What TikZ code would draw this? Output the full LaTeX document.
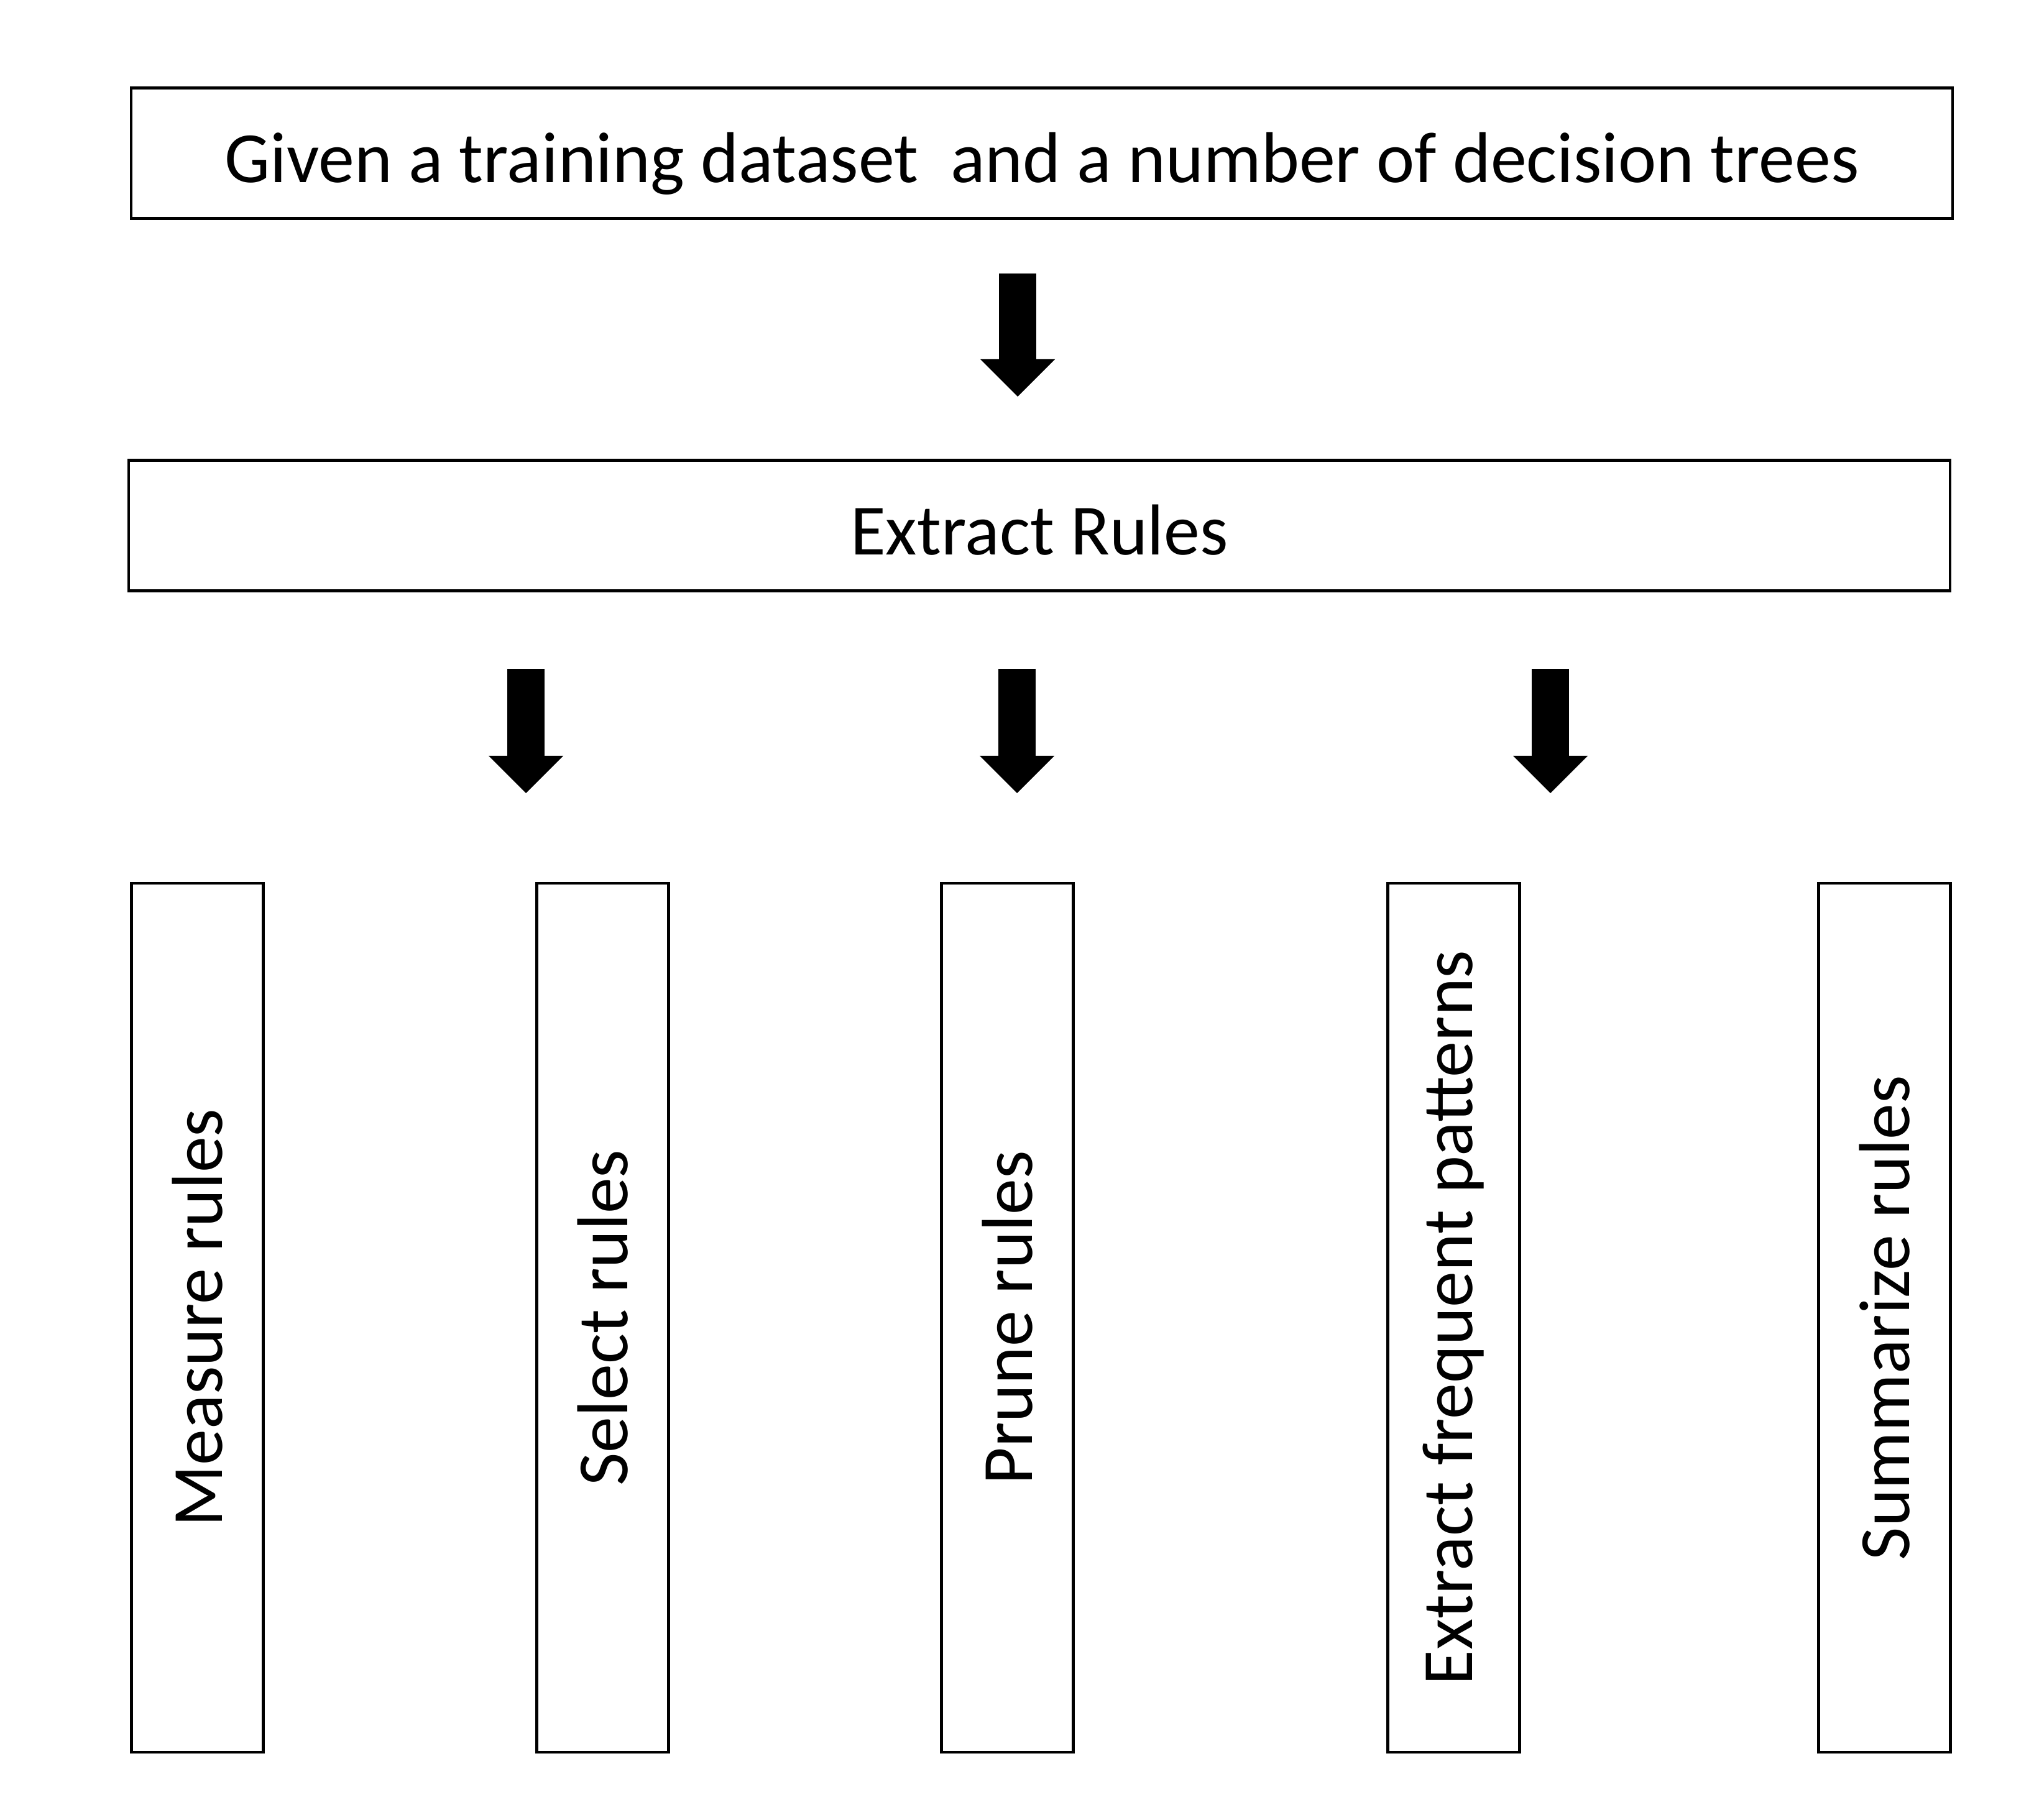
\documentclass[tikz,border=0pt]{standalone}
\usepackage{fontspec}
\setmainfont{Carlito}
\usetikzlibrary{arrows.meta}

\begin{document}
\begin{tikzpicture}
		\tikzstyle{every node}+=[inner sep=0pt, font=\fontsize{33}{40}\selectfont]
		\tikzstyle{widebox}=[draw=black, line width=1.3pt, minimum width=29.3cm, minimum height=2.1cm, text height=27pt, text depth=0pt]
		\tikzstyle{tallbox}=[draw=black, line width=1.3pt, rotate=90, minimum width=13.98cm, minimum height=2.12cm]
		\tikzstyle{fatarrow}=[black, line width=0.6cm, -{Triangle[width=1.2cm,length=0.6cm,line width=0pt]}]
		\useasboundingbox (0,0) rectangle (32.72,-29.28);
		\node [widebox] (given) at (16.76,-2.465) {Given a training dataset\ \ and a number of decision trees};
		\node [widebox] (extract) at (16.72,-8.455) {Extract Rules};
		\node [tallbox] (measure) at (3.175,-21.2) {Measure rules};
		\node [tallbox] (select) at (9.695,-21.2) {Select rules};
		\node [tallbox] (prune) at (16.205,-21.2) {Prune rules};
		\node [tallbox] (patterns) at (23.385,-21.2) {Extract frequent patterns};
		\node [tallbox] (summarize) at (30.315,-21.2) {Summarize rules};
		\coordinate (atop) at (16.37,-4.40);
		\coordinate (atip) at (16.37,-6.38);
		\draw [fatarrow] (atop) -- (atip);
		\coordinate (bltop) at (8.46,-10.76);
		\coordinate (bltip) at (8.46,-12.76);
		\draw [fatarrow] (bltop) -- (bltip);
		\coordinate (bmtop) at (16.36,-10.76);
		\coordinate (bmtip) at (16.36,-12.76);
		\draw [fatarrow] (bmtop) -- (bmtip);
		\coordinate (brtop) at (24.94,-10.76);
		\coordinate (brtip) at (24.94,-12.76);
		\draw [fatarrow] (brtop) -- (brtip);
\end{tikzpicture}
\end{document}
